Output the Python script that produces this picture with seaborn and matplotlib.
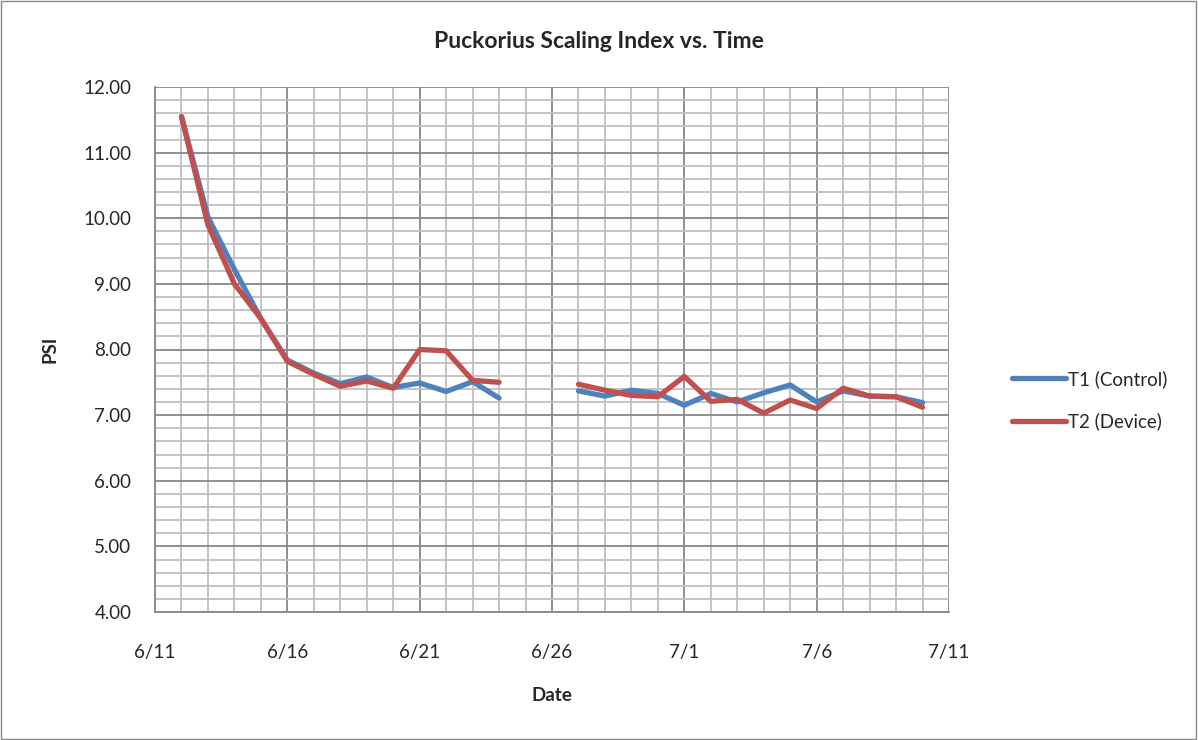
import pandas as pd
import numpy as np
import matplotlib as mpl
mpl.use('agg')
import matplotlib.pyplot as plt
import matplotlib.dates as mdates
from matplotlib.ticker import MultipleLocator, FormatStrFormatter
import seaborn as sns

# daily readings, no samples on 6/25 and 6/26
dates = ['2013-06-12', '2013-06-13', '2013-06-14', '2013-06-15', '2013-06-16',
         '2013-06-17', '2013-06-18', '2013-06-19', '2013-06-20', '2013-06-21',
         '2013-06-22', '2013-06-23', '2013-06-24',
         '2013-06-27', '2013-06-28', '2013-06-29', '2013-06-30', '2013-07-01',
         '2013-07-02', '2013-07-03', '2013-07-04', '2013-07-05', '2013-07-06',
         '2013-07-07', '2013-07-08', '2013-07-09', '2013-07-10']
t1_control = [11.55, 10.02, 9.22, 8.47, 7.84, 7.64, 7.48, 7.58, 7.42, 7.49,
              7.36, 7.51, 7.26,
              7.37, 7.29, 7.38, 7.33, 7.15, 7.33, 7.20, 7.34, 7.46, 7.20,
              7.37, 7.29, 7.28, 7.19]
t2_device = [11.55, 9.90, 9.00, 8.47, 7.82, 7.62, 7.44, 7.52, 7.41, 8.00,
             7.98, 7.53, 7.50,
             7.47, 7.38, 7.30, 7.28, 7.59, 7.21, 7.24, 7.03, 7.23, 7.10,
             7.41, 7.29, 7.28, 7.12]
series_names = ['T1 (Control)', 'T2 (Device)']
tick_dates = ['2013-06-11', '2013-06-16', '2013-06-21', '2013-06-26',
              '2013-07-01', '2013-07-06', '2013-07-11']

d = pd.to_datetime(dates)
df = pd.concat([
    pd.DataFrame({'date': d, 'psi': t1_control, 'series': series_names[0]}),
    pd.DataFrame({'date': d, 'psi': t2_device, 'series': series_names[1]}),
])
df['segment'] = np.where(df['date'] < pd.Timestamp('2013-06-26'), 0, 1)

sns.set_style('white')
plt.rcParams['font.family'] = ['Lato', 'DejaVu Sans']

fig = plt.figure(figsize=(11.98, 7.4), dpi=100)
ax = fig.add_axes([155/1198, 1-612/740, (949-155)/1198, (612-87)/740])

sns.lineplot(data=df, x='date', y='psi', hue='series', units='segment',
             estimator=None, palette=['#4F81BD', '#C0504D'], linewidth=3.8,
             ax=ax, solid_capstyle='round', solid_joinstyle='round', zorder=3)

ticks = pd.to_datetime(tick_dates)
ax.set_xlim(ticks[0], ticks[-1])
ax.set_ylim(4, 12)
ax.set_xticks(ticks)
ax.xaxis.set_major_formatter(mdates.DateFormatter('%-m/%-d'))
ax.xaxis.set_minor_locator(mdates.DayLocator())
ax.yaxis.set_major_locator(MultipleLocator(1))
ax.yaxis.set_minor_locator(MultipleLocator(0.2))
ax.yaxis.set_major_formatter(FormatStrFormatter('%.2f'))

ax.grid(which='major', color='#878787', linewidth=1.3)
ax.grid(which='minor', color='#bfbfbf', linewidth=1.3)
ax.set_axisbelow(True)
for s in ['top', 'right']:
    ax.spines[s].set_visible(False)
for s in ['left', 'bottom']:
    ax.spines[s].set_color('#878787')
    ax.spines[s].set_linewidth(1.3)
ax.tick_params(which='both', length=0, labelsize=13.5)
ax.tick_params(axis='x', pad=23)
ax.tick_params(axis='y', pad=17)

ax.set_xlabel('Date', fontsize=13.5, fontweight='bold', labelpad=19)
ax.set_ylabel('PSI', fontsize=13.5, fontweight='bold', labelpad=18)
fig.text(0.5, 1-41/740, 'Puckorius Scaling Index vs. Time', ha='center',
         va='center', fontsize=16.5, fontweight='bold')

h, l = ax.get_legend_handles_labels()
ax.legend(h, l, loc='center left', bbox_to_anchor=(995/1198, 1-400/740),
          bbox_transform=fig.transFigure, frameon=False, fontsize=13.5,
          handlelength=2.9, handletextpad=0.1, labelspacing=1.3)

fig.add_artist(plt.Rectangle((0.001, 0.001), 0.997, 0.997, transform=fig.transFigure,
                             fill=False, edgecolor='#888888', linewidth=1))

plt.savefig('out.png', dpi=100)
